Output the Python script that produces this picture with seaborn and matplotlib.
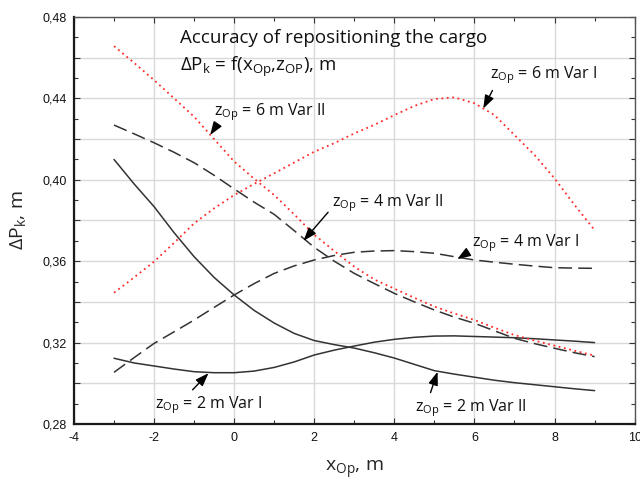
import numpy as np
import pandas as pd
import matplotlib
matplotlib.use('Agg')
import matplotlib.pyplot as plt
import matplotlib.ticker as mticker
import seaborn as sns

# Position of the cargo along x, m
x_op = [-3, -2.5, -2, -1.5, -1, -0.5, 0, 0.5, 1, 1.5, 2, 2.5, 3,
        3.5, 4, 4.5, 5, 5.5, 6, 6.5, 7, 7.5, 8, 8.5, 9]

# Accuracy dP_k, m for each variant
z2_var1 = [0.3123, 0.3100, 0.3085, 0.3070, 0.3057, 0.3052, 0.3052, 0.3060, 0.3078, 0.3105, 0.3139, 0.3163, 0.3183,
           0.3202, 0.3216, 0.3226, 0.3232, 0.3233, 0.3230, 0.3227, 0.3224, 0.3219, 0.3213, 0.3207, 0.3200]
z2_var2 = [0.4100, 0.3980, 0.3868, 0.3740, 0.3622, 0.3520, 0.3434, 0.3358, 0.3296, 0.3245, 0.3210, 0.3190, 0.3173,
           0.3150, 0.3124, 0.3093, 0.3062, 0.3045, 0.3030, 0.3015, 0.3003, 0.2993, 0.2983, 0.2973, 0.2964]
z4_var1 = [0.3054, 0.3126, 0.3196, 0.3253, 0.3311, 0.3373, 0.3434, 0.3490, 0.3540, 0.3577, 0.3606, 0.3628, 0.3644,
           0.3650, 0.3652, 0.3647, 0.3639, 0.3622, 0.3606, 0.3595, 0.3585, 0.3576, 0.3568, 0.3566, 0.3565]
z4_var2 = [0.4269, 0.4226, 0.4182, 0.4135, 0.4084, 0.4022, 0.3955, 0.3890, 0.3830, 0.3750, 0.3668, 0.3600, 0.3540,
           0.3490, 0.3442, 0.3400, 0.3360, 0.3325, 0.3295, 0.3258, 0.3221, 0.3195, 0.3172, 0.3150, 0.3131]
z6_var1 = [0.3445, 0.3520, 0.3598, 0.3690, 0.3786, 0.3860, 0.3925, 0.3980, 0.4032, 0.4085, 0.4138, 0.4180, 0.4228,
           0.4270, 0.4318, 0.4363, 0.4397, 0.4405, 0.4376, 0.4318, 0.4220, 0.4122, 0.4007, 0.3876, 0.3753]
z6_var2 = [0.4657, 0.4575, 0.4490, 0.4400, 0.4310, 0.4200, 0.4090, 0.4005, 0.3925, 0.3830, 0.3730, 0.3650, 0.3573,
           0.3510, 0.3465, 0.3420, 0.3377, 0.3343, 0.3311, 0.3273, 0.3237, 0.3210, 0.3185, 0.3160, 0.3136]

sns.set_style('whitegrid')
plt.rcParams['font.family'] = ['Liberation Sans', 'DejaVu Sans']

fig = plt.figure(figsize=(6.4, 4.86), dpi=100, facecolor='w')
ax = fig.add_axes([0.1156, 0.1276, 0.876, 0.8374])

red = '#ff2a2a'
dark = '#333333'
sns.lineplot(x=x_op, y=z2_var1, ax=ax, color=dark, linewidth=1.1)
sns.lineplot(x=x_op, y=z2_var2, ax=ax, color=dark, linewidth=1.1)
sns.lineplot(x=x_op, y=z4_var1, ax=ax, color=dark, linewidth=1.1, linestyle=(0, (9, 4)))
sns.lineplot(x=x_op, y=z4_var2, ax=ax, color=dark, linewidth=1.1, linestyle=(0, (9, 4)))
sns.lineplot(x=x_op, y=z6_var1, ax=ax, color=red, linewidth=1.3, linestyle=(0, (1, 2)))
sns.lineplot(x=x_op, y=z6_var2, ax=ax, color=red, linewidth=1.3, linestyle=(0, (1, 2)))

ax.set_xlim(-4, 10)
ax.set_ylim(0.28, 0.48)
ax.xaxis.set_major_locator(mticker.MultipleLocator(2))
ax.xaxis.set_minor_locator(mticker.MultipleLocator(1))
ax.yaxis.set_major_locator(mticker.MultipleLocator(0.02))
ax.yaxis.set_minor_locator(mticker.MultipleLocator(0.01))


def y_fmt(v, pos):
    if round(v * 100) % 4 != 0:
        return ''
    return '{:.2f}'.format(v).replace('.', ',')


ax.yaxis.set_major_formatter(mticker.FuncFormatter(y_fmt))
ax.xaxis.set_major_formatter(mticker.FuncFormatter(lambda v, p: '{:.0f}'.format(v)))
ax.grid(True, which='major', color='#d9d9d9', linewidth=1.0)
ax.grid(False, which='minor')
ax.tick_params(which='both', direction='in', top=True, right=True, left=True, bottom=True,
               colors='#333333', labelcolor='#111111', labelsize=9)
ax.tick_params(which='major', length=4, width=0.8)
ax.tick_params(which='minor', length=3, width=0.8)
ax.tick_params(axis='y', pad=5)
ax.tick_params(axis='x', pad=6)
for side in ['left', 'bottom']:
    ax.spines[side].set_color('#1a1a1a')
    ax.spines[side].set_linewidth(1.6)
for side in ['top', 'right']:
    ax.spines[side].set_color('#555555')
    ax.spines[side].set_linewidth(1.0)

lab_font = ['Open Sans', 'DejaVu Sans']
ax.set_xlabel('x$_\\mathregular{Op}$, m', fontsize=14, family=lab_font, labelpad=10)
ax.set_ylabel('ΔP$_\\mathregular{k}$, m', fontsize=14, family=lab_font)
ax.yaxis.set_label_coords(-0.08, 0.5)

ax.text(-1.35, 0.4697, 'Accuracy of repositioning the cargo', fontsize=13.5, family=lab_font,
        va='center', ha='left', color='#111111')
ax.text(-1.35, 0.4554, 'ΔP$_\\mathregular{k}$ = f(x$_\\mathregular{Op}$,z$_\\mathregular{OP}$), m',
        fontsize=13.5, family=lab_font, va='center', ha='left', color='#111111')

# text, arrow tip, text position, where the arrow leaves the text
notes = [
    ('z$_\\mathregular{Op}$ = 6 m Var II', (-0.6, 0.422), (-0.5, 0.4333), (0.05, 0.1)),
    ('z$_\\mathregular{Op}$ = 6 m Var I', (6.22, 0.435), (6.4, 0.4515), (0.05, 0.1)),
    ('z$_\\mathregular{Op}$ = 4 m Var II', (1.73, 0.370), (2.45, 0.3886), (0.0, 0.3)),
    ('z$_\\mathregular{Op}$ = 4 m Var I', (5.57, 0.361), (5.95, 0.369), (0.0, 0.2)),
    ('z$_\\mathregular{Op}$ = 2 m Var I', (-0.64, 0.305), (-1.97, 0.2893), (0.3, 0.95)),
    ('z$_\\mathregular{Op}$ = 2 m Var II', (5.08, 0.3057), (4.52, 0.2878), (0.12, 0.95)),
]
for text, tip, pos, rel in notes:
    ax.annotate(text, xy=tip, xytext=pos, fontsize=11.5, family=lab_font, ha='left', va='center',
                color='#111111',
                arrowprops=dict(arrowstyle='-|>,head_length=0.7,head_width=0.25', color='black',
                                lw=1.0, shrinkA=1, shrinkB=0, relpos=rel))

fig.savefig('out.png', dpi=100)
